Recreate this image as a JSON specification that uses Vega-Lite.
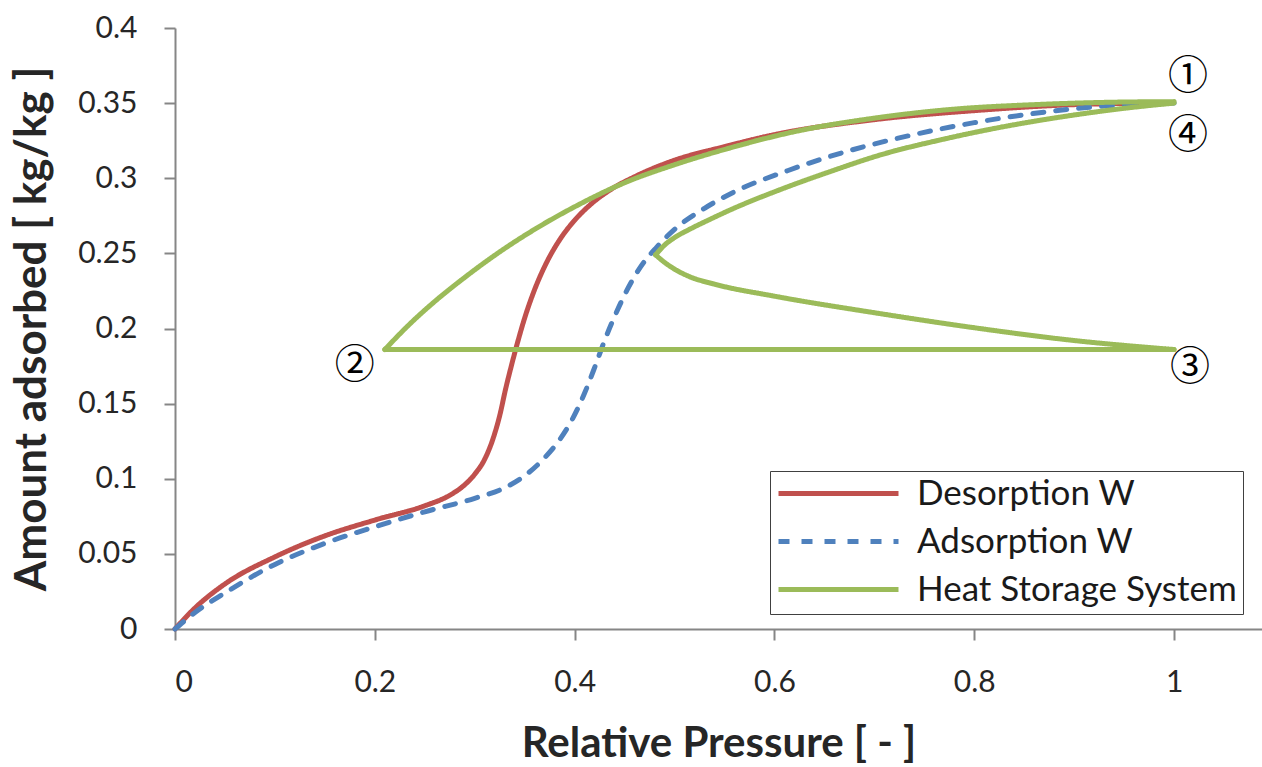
{
  "$schema": "https://vega.github.io/schema/vega-lite/v6.json",
  "width": 1087,
  "height": 601,
  "autosize": {"type": "none"},
  "padding": {"left": 175, "top": 28, "right": 0, "bottom": 138},
  "background": "white",
  "config": {
    "view": {"stroke": null},
    "font": "Lato",
    "axis": {
      "grid": false,
      "domainColor": "#868686",
      "domainWidth": 2,
      "tickColor": "#868686",
      "tickWidth": 2,
      "tickSize": 11,
      "labelFont": "Lato",
      "labelFontSize": 30,
      "labelColor": "#262626",
      "titleFont": "Lato",
      "titleFontWeight": "bold",
      "titleColor": "#262626"
    }
  },
  "datasets": {
    "curves": [
      {"s": "Desorption W", "g": "d", "x": 0, "y": 0},
      {"s": "Desorption W", "g": "d", "x": 0.02, "y": 0.014},
      {"s": "Desorption W", "g": "d", "x": 0.05, "y": 0.03},
      {"s": "Desorption W", "g": "d", "x": 0.1, "y": 0.048},
      {"s": "Desorption W", "g": "d", "x": 0.15, "y": 0.062},
      {"s": "Desorption W", "g": "d", "x": 0.2, "y": 0.0725},
      {"s": "Desorption W", "g": "d", "x": 0.25, "y": 0.082},
      {"s": "Desorption W", "g": "d", "x": 0.275, "y": 0.089},
      {"s": "Desorption W", "g": "d", "x": 0.29, "y": 0.096},
      {"s": "Desorption W", "g": "d", "x": 0.3, "y": 0.103},
      {"s": "Desorption W", "g": "d", "x": 0.31, "y": 0.113},
      {"s": "Desorption W", "g": "d", "x": 0.318, "y": 0.126},
      {"s": "Desorption W", "g": "d", "x": 0.325, "y": 0.142},
      {"s": "Desorption W", "g": "d", "x": 0.331, "y": 0.16},
      {"s": "Desorption W", "g": "d", "x": 0.337, "y": 0.176},
      {"s": "Desorption W", "g": "d", "x": 0.343, "y": 0.191},
      {"s": "Desorption W", "g": "d", "x": 0.35, "y": 0.207},
      {"s": "Desorption W", "g": "d", "x": 0.36, "y": 0.226},
      {"s": "Desorption W", "g": "d", "x": 0.372, "y": 0.244},
      {"s": "Desorption W", "g": "d", "x": 0.385, "y": 0.259},
      {"s": "Desorption W", "g": "d", "x": 0.4, "y": 0.272},
      {"s": "Desorption W", "g": "d", "x": 0.415, "y": 0.282},
      {"s": "Desorption W", "g": "d", "x": 0.435, "y": 0.292},
      {"s": "Desorption W", "g": "d", "x": 0.46, "y": 0.301},
      {"s": "Desorption W", "g": "d", "x": 0.5, "y": 0.312},
      {"s": "Desorption W", "g": "d", "x": 0.55, "y": 0.321},
      {"s": "Desorption W", "g": "d", "x": 0.6, "y": 0.329},
      {"s": "Desorption W", "g": "d", "x": 0.7, "y": 0.339},
      {"s": "Desorption W", "g": "d", "x": 0.8, "y": 0.345},
      {"s": "Desorption W", "g": "d", "x": 0.9, "y": 0.349},
      {"s": "Desorption W", "g": "d", "x": 0.98, "y": 0.35},

      {"s": "Adsorption W", "g": "a", "x": 0, "y": 0},
      {"s": "Adsorption W", "g": "a", "x": 0.02, "y": 0.011},
      {"s": "Adsorption W", "g": "a", "x": 0.05, "y": 0.024},
      {"s": "Adsorption W", "g": "a", "x": 0.1, "y": 0.043},
      {"s": "Adsorption W", "g": "a", "x": 0.15, "y": 0.057},
      {"s": "Adsorption W", "g": "a", "x": 0.2, "y": 0.068},
      {"s": "Adsorption W", "g": "a", "x": 0.25, "y": 0.078},
      {"s": "Adsorption W", "g": "a", "x": 0.3, "y": 0.087},
      {"s": "Adsorption W", "g": "a", "x": 0.33, "y": 0.094},
      {"s": "Adsorption W", "g": "a", "x": 0.35, "y": 0.102},
      {"s": "Adsorption W", "g": "a", "x": 0.37, "y": 0.114},
      {"s": "Adsorption W", "g": "a", "x": 0.385, "y": 0.126},
      {"s": "Adsorption W", "g": "a", "x": 0.398, "y": 0.14},
      {"s": "Adsorption W", "g": "a", "x": 0.41, "y": 0.157},
      {"s": "Adsorption W", "g": "a", "x": 0.42, "y": 0.174},
      {"s": "Adsorption W", "g": "a", "x": 0.43, "y": 0.192},
      {"s": "Adsorption W", "g": "a", "x": 0.44, "y": 0.208},
      {"s": "Adsorption W", "g": "a", "x": 0.452, "y": 0.225},
      {"s": "Adsorption W", "g": "a", "x": 0.466, "y": 0.241},
      {"s": "Adsorption W", "g": "a", "x": 0.482, "y": 0.254},
      {"s": "Adsorption W", "g": "a", "x": 0.5, "y": 0.266},
      {"s": "Adsorption W", "g": "a", "x": 0.53, "y": 0.28},
      {"s": "Adsorption W", "g": "a", "x": 0.56, "y": 0.291},
      {"s": "Adsorption W", "g": "a", "x": 0.613, "y": 0.305},
      {"s": "Adsorption W", "g": "a", "x": 0.673, "y": 0.318},
      {"s": "Adsorption W", "g": "a", "x": 0.726, "y": 0.327},
      {"s": "Adsorption W", "g": "a", "x": 0.8, "y": 0.337},
      {"s": "Adsorption W", "g": "a", "x": 0.87, "y": 0.344},
      {"s": "Adsorption W", "g": "a", "x": 0.93, "y": 0.348},
      {"s": "Adsorption W", "g": "a", "x": 1.0, "y": 0.35},

      {"s": "Heat Storage System", "g": "g1", "x": 0.21, "y": 0.186},
      {"s": "Heat Storage System", "g": "g1", "x": 0.235, "y": 0.203},
      {"s": "Heat Storage System", "g": "g1", "x": 0.26, "y": 0.218},
      {"s": "Heat Storage System", "g": "g1", "x": 0.29, "y": 0.234},
      {"s": "Heat Storage System", "g": "g1", "x": 0.325, "y": 0.251},
      {"s": "Heat Storage System", "g": "g1", "x": 0.36, "y": 0.266},
      {"s": "Heat Storage System", "g": "g1", "x": 0.4, "y": 0.281},
      {"s": "Heat Storage System", "g": "g1", "x": 0.45, "y": 0.297},
      {"s": "Heat Storage System", "g": "g1", "x": 0.5, "y": 0.309},
      {"s": "Heat Storage System", "g": "g1", "x": 0.56, "y": 0.321},
      {"s": "Heat Storage System", "g": "g1", "x": 0.62, "y": 0.331},
      {"s": "Heat Storage System", "g": "g1", "x": 0.7, "y": 0.34},
      {"s": "Heat Storage System", "g": "g1", "x": 0.78, "y": 0.346},
      {"s": "Heat Storage System", "g": "g1", "x": 0.86, "y": 0.349},
      {"s": "Heat Storage System", "g": "g1", "x": 0.93, "y": 0.3505},
      {"s": "Heat Storage System", "g": "g1", "x": 1.0, "y": 0.351},

      {"s": "Heat Storage System", "g": "g2", "x": 0.21, "y": 0.186},
      {"s": "Heat Storage System", "g": "g2", "x": 1.0, "y": 0.186},

      {"s": "Heat Storage System", "g": "g3", "x": 0.481, "y": 0.249},
      {"s": "Heat Storage System", "g": "g3", "x": 0.49, "y": 0.244},
      {"s": "Heat Storage System", "g": "g3", "x": 0.5, "y": 0.2395},
      {"s": "Heat Storage System", "g": "g3", "x": 0.515, "y": 0.2345},
      {"s": "Heat Storage System", "g": "g3", "x": 0.54, "y": 0.2295},
      {"s": "Heat Storage System", "g": "g3", "x": 0.6, "y": 0.2215},
      {"s": "Heat Storage System", "g": "g3", "x": 0.7, "y": 0.2105},
      {"s": "Heat Storage System", "g": "g3", "x": 0.8, "y": 0.2005},
      {"s": "Heat Storage System", "g": "g3", "x": 0.9, "y": 0.192},
      {"s": "Heat Storage System", "g": "g3", "x": 1.0, "y": 0.186},

      {"s": "Heat Storage System", "g": "g4", "x": 0.481, "y": 0.249},
      {"s": "Heat Storage System", "g": "g4", "x": 0.49, "y": 0.2555},
      {"s": "Heat Storage System", "g": "g4", "x": 0.5, "y": 0.2605},
      {"s": "Heat Storage System", "g": "g4", "x": 0.515, "y": 0.266},
      {"s": "Heat Storage System", "g": "g4", "x": 0.535, "y": 0.2725},
      {"s": "Heat Storage System", "g": "g4", "x": 0.556, "y": 0.279},
      {"s": "Heat Storage System", "g": "g4", "x": 0.606, "y": 0.2925},
      {"s": "Heat Storage System", "g": "g4", "x": 0.656, "y": 0.3045},
      {"s": "Heat Storage System", "g": "g4", "x": 0.706, "y": 0.3155},
      {"s": "Heat Storage System", "g": "g4", "x": 0.766, "y": 0.3255},
      {"s": "Heat Storage System", "g": "g4", "x": 0.823, "y": 0.3335},
      {"s": "Heat Storage System", "g": "g4", "x": 0.889, "y": 0.341},
      {"s": "Heat Storage System", "g": "g4", "x": 0.956, "y": 0.347},
      {"s": "Heat Storage System", "g": "g4", "x": 1.0, "y": 0.35}
    ],
    "points": [
      {"label": "①", "x": 1.014, "y": 0.3674},
      {"label": "④", "x": 1.014, "y": 0.3281},
      {"label": "②", "x": 0.18, "y": 0.175},
      {"label": "③", "x": 1.016, "y": 0.174}
    ]
  },
  "encoding": {
    "x": {
      "field": "x",
      "type": "quantitative",
      "scale": {"domain": [0, 1.088], "nice": false, "zero": false},
      "axis": {
        "values": [0, 0.2, 0.4, 0.6, 0.8, 1],
        "format": "~g",
        "title": "Relative Pressure [ - ]",
        "titleFontSize": 42,
        "labelPadding": 27,
        "titlePadding": 26
      }
    },
    "y": {
      "field": "y",
      "type": "quantitative",
      "scale": {"domain": [0, 0.4], "nice": false, "zero": false},
      "axis": {
        "values": [0, 0.05, 0.1, 0.15, 0.2, 0.25, 0.3, 0.35, 0.4],
        "format": "~g",
        "title": "Amount adsorbed [ kg/kg ]",
        "titleFontSize": 44,
        "labelPadding": 27,
        "titlePadding": 23
      }
    }
  },
  "layer": [
    {
      "mark": {"type": "rule", "color": "#868686", "strokeWidth": 2},
      "encoding": {"y": {"datum": 0.4}, "x": null}
    },
    {
      "data": {"name": "curves"},
      "transform": [{"filter": "datum.s === 'Desorption W'"}],
      "mark": {"type": "line", "strokeWidth": 5, "interpolate": "monotone", "strokeCap": "round", "strokeJoin": "round"},
      "encoding": {
        "detail": {"field": "g"},
        "color": {
          "field": "s",
          "type": "nominal",
          "scale": {"domain": ["Desorption W", "Adsorption W", "Heat Storage System"], "range": ["#C0504D", "#4F81BD", "#9BBB59"]},
          "legend": {
            "title": null,
            "orient": "none",
            "legendX": 595,
            "legendY": 443,
            "symbolType": "stroke",
            "symbolSize": 14400,
            "symbolStrokeWidth": 5,
            "clipHeight": 33,
            "labelFont": "Lato",
            "labelFontSize": 35,
            "labelColor": "#1a1a1a",
            "labelLimit": 400,
            "labelOffset": 16,
            "rowPadding": 12,
            "padding": 6,
            "strokeColor": "#404040",
            "fillColor": "white"
          }
        },
        "strokeDash": {
          "field": "s",
          "type": "nominal",
          "scale": {"domain": ["Desorption W", "Adsorption W", "Heat Storage System"], "range": [[1, 0], [11, 12], [1, 0]]},
          "legend": null
        }
      }
    },
    {
      "data": {"name": "curves"},
      "transform": [{"filter": "datum.s === 'Adsorption W'"}],
      "mark": {"type": "line", "strokeWidth": 5, "interpolate": "monotone", "strokeCap": "round", "strokeJoin": "round"},
      "encoding": {
        "detail": {"field": "g"},
        "color": {"field": "s", "type": "nominal"},
        "strokeDash": {"field": "s", "type": "nominal"}
      }
    },
    {
      "data": {"name": "curves"},
      "transform": [{"filter": "datum.s === 'Heat Storage System'"}],
      "mark": {"type": "line", "strokeWidth": 5, "interpolate": "monotone", "strokeCap": "round", "strokeJoin": "round"},
      "encoding": {
        "detail": {"field": "g"},
        "color": {"field": "s", "type": "nominal"},
        "strokeDash": {"field": "s", "type": "nominal"}
      }
    },
    {
      "data": {"name": "points"},
      "mark": {"type": "text", "font": "Noto Sans CJK JP", "fontSize": 40, "align": "center", "baseline": "middle", "color": "black"},
      "encoding": {"text": {"field": "label"}}
    }
  ]
}
